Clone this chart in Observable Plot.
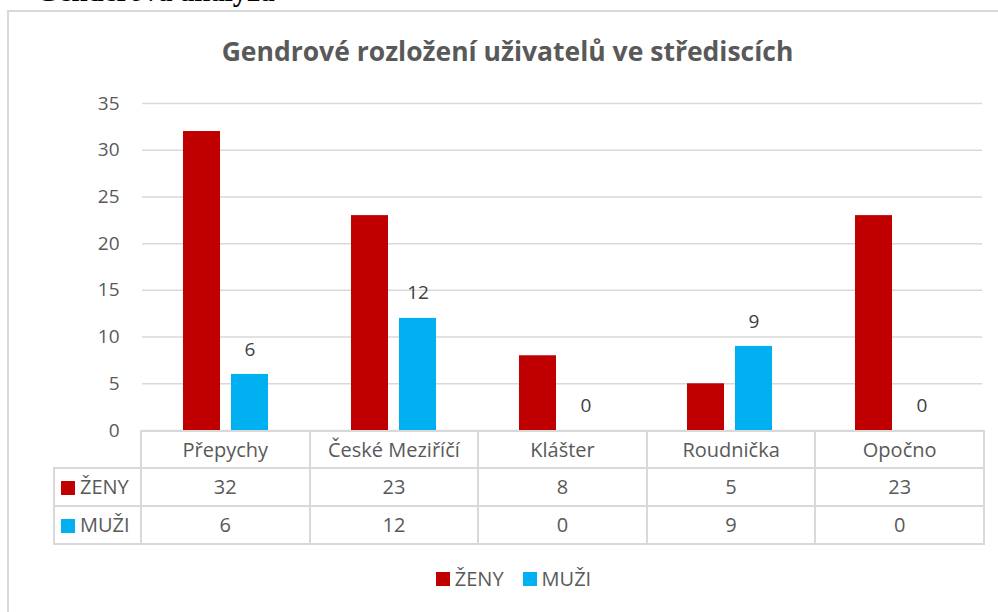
<!DOCTYPE html>
<html>
<head>
<meta charset="utf-8">
<script src="https://cdn.jsdelivr.net/npm/d3@7"></script>
<script src="https://cdn.jsdelivr.net/npm/@observablehq/plot@0.6"></script>
<style>
  html, body { margin: 0; padding: 0; background: #fff; }
  #page { position: relative; width: 998px; height: 612px; overflow: hidden; font-family: "Open Sans", sans-serif; }
  #doc-head { position: absolute; left: 36px; top: -23px; font-family: "Liberation Serif", serif; font-weight: bold; font-size: 29px; line-height: 29px; color: #000; white-space: nowrap; }
  #frame { position: absolute; left: 7px; top: 10px; width: 1000px; height: 620px; border: 2px solid #d9d9d9; box-sizing: border-box; pointer-events: none; }
  #title { position: absolute; left: 0; width: 1015px; top: 33px; text-align: center; font-weight: bold; font-size: 26.5px; line-height: 36px; color: #595959; white-space: nowrap; }
  #chart { position: absolute; left: 0; top: 0; }
  #table { position: absolute; border-collapse: collapse; table-layout: fixed; color: #595959; font-size: 20px; }
  #table td { border: 2px solid #d9d9d9; text-align: center; padding: 0; white-space: nowrap; line-height: 24px; }
  #table td.empty { border: none; }
  #table td.key { text-align: left; padding-left: 6px; }
  .sw { display: inline-block; width: 14px; height: 14px; margin-right: 5px; vertical-align: -1px; }
  #legend { position: absolute; left: 0; width: 1027px; top: 565px; display: flex; justify-content: center; gap: 19px; font-size: 20px; line-height: 28px; color: #595959; }
  #legend span.item { display: inline-flex; align-items: center; }
</style>
</head>
<body>
<div id="page">
  <div id="doc-head">Genderová analýza</div>
  <div id="title">Gendrové rozložení uživatelů ve střediscích</div>
</div>
<script>
const categories = ["Přepychy", "České Meziříčí", "Klášter", "Roudnička", "Opočno"];
const seriesNames = ["ŽENY", "MUŽI"];
const zeny = [32, 23, 8, 5, 23];
const muzi = [6, 12, 0, 9, 0];
const yTicks = [0, 5, 10, 15, 20, 25, 30, 35];
const seriesColors = ["#C00000", "#00B0F0"];

const W = 998, H = 450, ML = 140, MR = 15, MT = 103, MB = 20;

const rows = categories.flatMap((c, i) => [
  {category: c, series: seriesNames[0], value: zeny[i]},
  {category: c, series: seriesNames[1], value: muzi[i]}
]);

const chart = Plot.plot({
  width: W, height: H,
  marginLeft: ML, marginRight: MR, marginTop: MT, marginBottom: MB,
  style: {background: "transparent", fontFamily: "'Open Sans', sans-serif", overflow: "visible"},
  fx: {domain: categories, padding: 0, axis: null, label: null},
  x: {domain: seriesNames, paddingInner: 0.2245, paddingOuter: 0.83, axis: null, label: null},
  y: {domain: [0, 35], label: null},
  color: {domain: seriesNames, range: seriesColors},
  marks: [
    Plot.gridY(yTicks, {stroke: "#d9d9d9", strokeOpacity: 1, strokeWidth: 1.5}),
    Plot.axisY(yTicks, {tickSize: 0, tickPadding: 23, fontSize: 19, fill: "#595959", label: null}),
    Plot.barY(rows, {fx: "category", x: "series", y: "value", fill: "series"}),
    Plot.text(rows.filter(d => d.series === seriesNames[1]), {
      fx: "category", x: "series", y: "value", text: d => String(d.value),
      dy: -25, fontSize: 19, fill: "#404040"
    })
  ]
});
chart.id = "chart";
const page = document.getElementById("page");
page.appendChild(chart);

// data table below the plot (aligned with the fx bands)
const colW = (W - ML - MR) / categories.length;
const table = document.createElement("table");
table.id = "table";
table.style.left = "53px";
table.style.top = (H - MB) + "px";
const keyW = ML - 53;
table.style.width = (keyW + colW * categories.length) + "px";
const colgroup = document.createElement("colgroup");
[keyW, ...categories.map(() => colW)].forEach(w => {
  const col = document.createElement("col"); col.style.width = w + "px"; colgroup.appendChild(col);
});
table.appendChild(colgroup);
const rowHeights = [37, 38, 38];
const head = document.createElement("tr");
head.style.height = rowHeights[0] + "px";
const empty = document.createElement("td"); empty.className = "empty"; head.appendChild(empty);
categories.forEach(c => { const td = document.createElement("td"); td.textContent = c; head.appendChild(td); });
table.appendChild(head);
[zeny, muzi].forEach((vals, si) => {
  const tr = document.createElement("tr");
  tr.style.height = rowHeights[si + 1] + "px";
  const key = document.createElement("td"); key.className = "key";
  key.innerHTML = `<span class="sw" style="background:${seriesColors[si]}"></span>${seriesNames[si]}`;
  tr.appendChild(key);
  vals.forEach(v => { const td = document.createElement("td"); td.textContent = v; tr.appendChild(td); });
  table.appendChild(tr);
});
page.appendChild(table);

// legend
const legend = document.createElement("div");
legend.id = "legend";
seriesNames.forEach((s, i) => {
  const item = document.createElement("span"); item.className = "item";
  item.innerHTML = `<span class="sw" style="background:${seriesColors[i]}"></span>${s}`;
  legend.appendChild(item);
});
page.appendChild(legend);

const frame = document.createElement("div"); frame.id = "frame"; page.appendChild(frame);
</script>
</body>
</html>
